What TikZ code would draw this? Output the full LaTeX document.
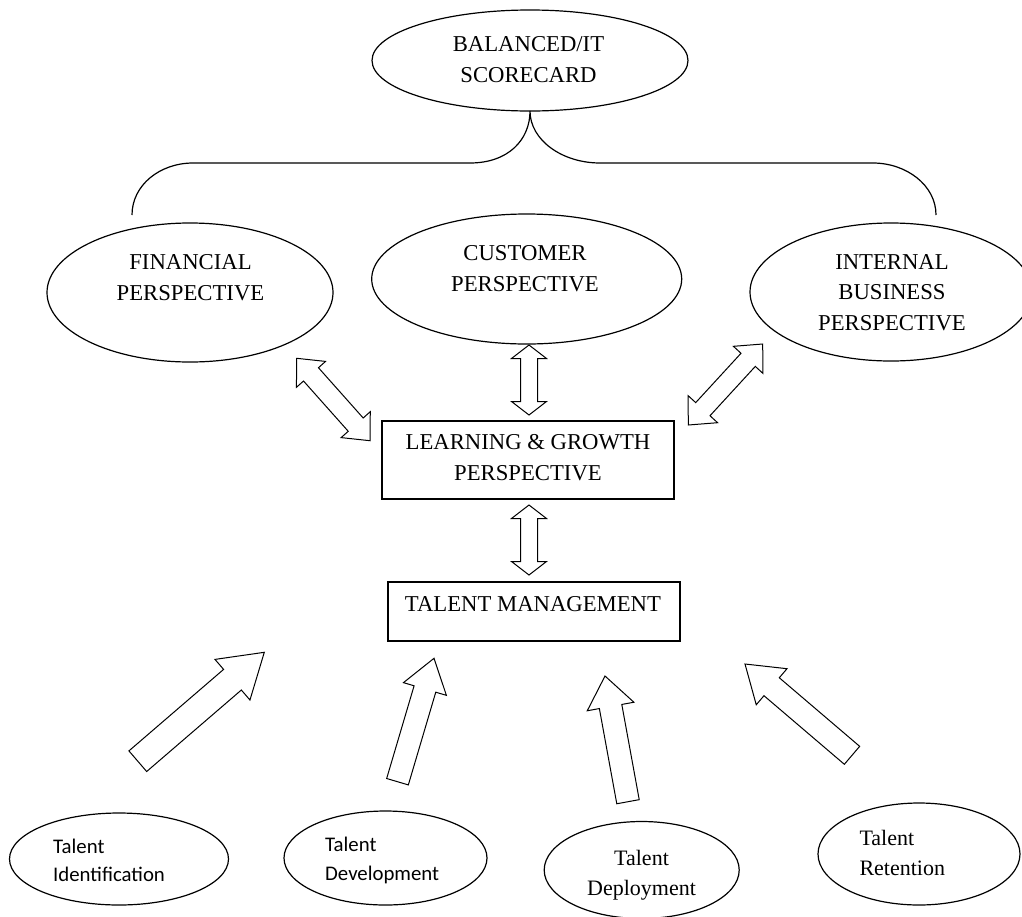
\documentclass[tikz,border=0pt]{standalone}
\usepackage{fontspec}
\setmainfont{Liberation Serif}
\newfontfamily\carlitofont{Carlito}
\usetikzlibrary{calc,shapes.geometric}
\tikzset{
  shape line/.style={draw, line width=1.2pt, inner sep=0pt, outer sep=0pt},
  ellbox/.style={shape line, ellipse},
  rectbox/.style={shape line, rectangle},
  captext/.style={inner sep=0pt, align=center, anchor=base,
    font=\fontsize{22.7}{30.5}\selectfont},
  smallserif/.style={inner sep=0pt, font=\fontsize{22}{30}\selectfont},
  smallsans/.style={inner sep=0pt, align=left, anchor=base west,
    font=\carlitofont\fontsize{20.8}{28.5}\selectfont},
  blockarrow/.style={draw, line width=1pt, fill=white, line join=miter},
  bracket/.style={draw, line width=1.2pt}
}
\newcommand{\dblarrow}[5]{%
  \coordinate (q1) at ($(#1)!#5!(#2)$);
  \coordinate (q2) at ($(#2)!#5!(#1)$);
  \draw[blockarrow] (#1) -- ($(q1)!#4!90:(#2)$) -- ($(q1)!#3!90:(#2)$)
    -- ($(q2)!#3!-90:(#1)$) -- ($(q2)!#4!-90:(#1)$) -- (#2)
    -- ($(q2)!#4!90:(#1)$) -- ($(q2)!#3!90:(#1)$)
    -- ($(q1)!#3!-90:(#2)$) -- ($(q1)!#4!-90:(#2)$) -- cycle;}
\newcommand{\sglarrow}[5]{%
  \coordinate (q1) at ($(#2)!#5!(#1)$);
  \draw[blockarrow] ($(#1)!#3!90:(#2)$) -- ($(q1)!#3!-90:(#1)$)
    -- ($(q1)!#4!-90:(#1)$) -- (#2) -- ($(q1)!#4!90:(#1)$)
    -- ($(q1)!#3!90:(#1)$) -- ($(#1)!#3!-90:(#2)$) -- cycle;}
\begin{document}
\begin{tikzpicture}[x=1pt,y=-1pt]
\useasboundingbox (0,0) rectangle (1022,916);

% top scorecard
\node[ellbox, minimum width=316pt, minimum height=101pt] (topE) at (530,60.5) {};
\node[captext] (topT) at (528.5,82) {BALANCED/IT\\SCORECARD};

% bracket
\coordinate (bl) at (132,215);
\coordinate (br) at (936,215);
\draw[bracket] (bl) .. controls (132,185) and (160,163) .. (193,163)
  -- (470,163) .. controls (508,163) and (530,140) .. (topE.south)
  .. controls (530,140) and (562,163) .. (600,163)
  -- (873,163) .. controls (906,163) and (936,185) .. (br);

% perspectives
\node[ellbox, minimum width=286pt, minimum height=139pt] (finE) at (190,292.5) {};
\node[captext] (finT) at (190.5,300) {FINANCIAL\\PERSPECTIVE};
\node[ellbox, minimum width=310pt, minimum height=130pt] (custE) at (526.7,279) {};
\node[captext] (custT) at (525,291) {CUSTOMER\\PERSPECTIVE};
\node[ellbox, minimum width=282pt, minimum height=138pt] (intE) at (891,292) {};
\node[captext] (intT) at (892,330) {INTERNAL\\BUSINESS\\PERSPECTIVE};

% learning & growth
\node[rectbox, minimum width=292pt, minimum height=78pt] (learnR) at (528,460) {};
\node[captext] (learnT) at (528,480) {LEARNING \& GROWTH\\PERSPECTIVE};

% talent management
\node[rectbox, minimum width=292pt, minimum height=59pt] (tmR) at (534,611.5) {};
\node[captext] (tmT) at (533,611) {TALENT MANAGEMENT};

% double arrows
\coordinate (d1a) at (296.7,358.3); \coordinate (d1b) at (370,440.7);
\coordinate (d2a) at (529,345);     \coordinate (d2b) at (529,415);
\coordinate (d3a) at (762.7,344);   \coordinate (d3b) at (688.3,425);
\coordinate (d4a) at (529,505);     \coordinate (d4b) at (529,575);
\dblarrow{d1a}{d1b}{10pt}{19.5pt}{21.5pt}
\dblarrow{d2a}{d2b}{8.5pt}{17.5pt}{13.5pt}
\dblarrow{d3a}{d3b}{9.7pt}{20pt}{21.5pt}
\dblarrow{d4a}{d4b}{8.5pt}{17.5pt}{13.5pt}

% talent elements
\node[ellbox, minimum width=219pt, minimum height=92pt] (idE) at (119,859) {};
\node[smallsans] (idT) at (53,881.7) {Talent\\Identification};
\node[ellbox, minimum width=203pt, minimum height=94pt] (devE) at (385.5,858) {};
\node[smallsans] (devT) at (325,880) {Talent\\Development};
\node[ellbox, minimum width=195pt, minimum height=97pt] (depE) at (641.7,870) {};
\node[smallserif, align=center, anchor=base] (depT) at (641.5,895) {Talent\\Deployment};
\node[ellbox, minimum width=202pt, minimum height=102pt] (retE) at (919,854) {};
\node[smallserif, align=left, anchor=base west] (retT) at (859.3,875) {Talent\\Retention};

% single arrows
\coordinate (s1a) at (137.8,761.2); \coordinate (s1b) at (264.3,652.3);
\coordinate (s2a) at (397.5,781.7); \coordinate (s2b) at (434,658.3);
\coordinate (s3a) at (628,801.7);   \coordinate (s3b) at (605,676);
\coordinate (s4a) at (852,755.3);   \coordinate (s4b) at (745,664);
\sglarrow{s1a}{s1b}{13.6pt}{26.8pt}{42pt}
\sglarrow{s2a}{s2b}{11.3pt}{22.4pt}{32pt}
\sglarrow{s3a}{s3b}{11.4pt}{23.7pt}{31pt}
\sglarrow{s4a}{s4b}{11.8pt}{23.7pt}{35pt}
\end{tikzpicture}
\end{document}
